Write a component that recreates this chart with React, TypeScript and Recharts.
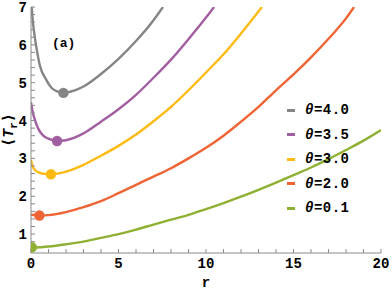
import React from 'react';
import { ComposedChart, Line, Scatter, XAxis, YAxis } from 'recharts';

// tick values
const xTicks = [0, 1, 2, 3, 4, 5, 6, 7, 8, 9, 10, 11, 12, 13, 14, 15, 16, 17, 18, 19, 20];
const yTicks = [
  0.6, 0.8, 1, 1.2, 1.4, 1.6, 1.8, 2, 2.2, 2.4, 2.6, 2.8, 3, 3.2, 3.4, 3.6, 3.8, 4,
  4.2, 4.4, 4.6, 4.8, 5, 5.2, 5.4, 5.6, 5.8, 6, 6.2, 6.4, 6.6, 6.8, 7,
];
const xLabels = [0, 5, 10, 15, 20];

// series (r, <T_r>)
const theta40 = [
  { r: 0.04, t: 7.0 }, { r: 0.1, t: 6.65 }, { r: 0.17, t: 6.36 }, { r: 0.32, t: 5.9 },
  { r: 0.51, t: 5.45 }, { r: 0.84, t: 5.1 }, { r: 1.18, t: 4.86 }, { r: 1.5, t: 4.77 },
  { r: 1.85, t: 4.73 }, { r: 2.5, t: 4.8 }, { r: 3, t: 4.9 }, { r: 4, t: 5.23 },
  { r: 5, t: 5.63 }, { r: 6, t: 6.1 }, { r: 7, t: 6.65 }, { r: 7.54, t: 7.0 },
];
const theta35 = [
  { r: 0, t: 4.48 }, { r: 0.1, t: 4.22 }, { r: 0.25, t: 3.98 }, { r: 0.42, t: 3.78 },
  { r: 0.7, t: 3.6 }, { r: 1.0, t: 3.52 }, { r: 1.49, t: 3.46 }, { r: 2, t: 3.48 },
  { r: 3, t: 3.66 }, { r: 4, t: 3.97 }, { r: 5, t: 4.3 }, { r: 6, t: 4.68 },
  { r: 7, t: 5.13 }, { r: 8, t: 5.61 }, { r: 9, t: 6.15 }, { r: 10, t: 6.72 },
  { r: 10.46, t: 7.0 },
];
const theta30 = [
  { r: 0, t: 2.96 }, { r: 0.1, t: 2.78 }, { r: 0.25, t: 2.68 }, { r: 0.5, t: 2.62 },
  { r: 0.8, t: 2.59 }, { r: 1.14, t: 2.58 }, { r: 2, t: 2.65 }, { r: 3, t: 2.83 },
  { r: 4, t: 3.07 }, { r: 5, t: 3.33 }, { r: 6, t: 3.63 }, { r: 7, t: 3.98 },
  { r: 8, t: 4.36 }, { r: 9, t: 4.8 }, { r: 10, t: 5.27 }, { r: 11, t: 5.75 },
  { r: 12, t: 6.3 }, { r: 13.2, t: 7.0 },
];
const theta20 = [
  { r: 0, t: 1.51 }, { r: 0.48, t: 1.49 }, { r: 1, t: 1.5 }, { r: 2, t: 1.58 },
  { r: 3, t: 1.71 }, { r: 4, t: 1.87 }, { r: 5, t: 2.08 }, { r: 6, t: 2.3 },
  { r: 7, t: 2.52 }, { r: 8, t: 2.74 }, { r: 9, t: 3.0 }, { r: 10, t: 3.28 },
  { r: 11, t: 3.6 }, { r: 12, t: 3.97 }, { r: 13, t: 4.36 }, { r: 14, t: 4.8 },
  { r: 15, t: 5.22 }, { r: 16, t: 5.67 }, { r: 17, t: 6.16 }, { r: 18, t: 6.7 },
  { r: 18.46, t: 7.0 },
];
const theta01 = [
  { r: 0, t: 0.63 }, { r: 1, t: 0.67 }, { r: 2, t: 0.73 }, { r: 3, t: 0.8 },
  { r: 4, t: 0.9 }, { r: 5, t: 1.0 }, { r: 6, t: 1.12 }, { r: 7, t: 1.25 },
  { r: 8, t: 1.38 }, { r: 9, t: 1.51 }, { r: 10, t: 1.66 }, { r: 11, t: 1.82 },
  { r: 12, t: 1.99 }, { r: 13, t: 2.17 }, { r: 14, t: 2.36 }, { r: 15, t: 2.56 },
  { r: 16, t: 2.76 }, { r: 17, t: 2.98 }, { r: 18, t: 3.22 }, { r: 19, t: 3.47 },
  { r: 20, t: 3.75 },
];

// minimum of each curve
const minima = [
  { r: 1.85, t: 4.73 },
  { r: 1.49, t: 3.46 },
  { r: 1.14, t: 2.58 },
  { r: 0.48, t: 1.49 },
  { r: 0.05, t: 0.65 },
];

const names = ['4.0', '3.5', '3.0', '2.0', '0.1'];
const colors = ['#858585', '#a15ea0', '#fdba12', '#ef6434', '#8fb133'];
const series = [theta40, theta35, theta30, theta20, theta01];

const font = 'Liberation Mono, DejaVu Sans Mono, monospace';
const frame = '#8a8a8a';

const LegendBox = () => (
  <div
    style={{
      position: 'absolute',
      left: 287,
      top: 98,
      fontFamily: font,
      fontWeight: 'bold',
      fontSize: 14,
    }}
  >
    {names.map((n, i) => (
      <div key={n} style={{ height: 24.5, display: 'flex', alignItems: 'center' }}>
        <span style={{ width: 8, height: 3, background: colors[i], display: 'inline-block', marginRight: 10 }} />
        <span style={{ letterSpacing: 0.5 }}>
          <span style={{ fontStyle: 'italic' }}>θ</span>={n}
        </span>
      </div>
    ))}
  </div>
);

const dotShape = (color: string) => (props: any) => (
  <circle cx={props.cx} cy={props.cy} r={5.2} fill={color} />
);

export default function App() {
  const tickStyle = { fontFamily: font, fontWeight: 'bold', fontSize: 14, fill: '#000' };
  return (
    <div style={{ position: 'absolute', left: 0, top: 0, width: 392, height: 292, background: '#fff' }}>
      <ComposedChart width={392} height={292} margin={{ top: 7, right: 11, left: 0, bottom: 0 }}>
        <XAxis
          dataKey="r"
          type="number"
          domain={[0, 20]}
          ticks={xTicks}
          interval={0}
          allowDataOverflow
          height={39}
          tickSize={-4}
          tickMargin={9}
          axisLine={{ stroke: frame }}
          tickLine={{ stroke: frame }}
          tick={tickStyle}
          tickFormatter={(v: number) => (xLabels.includes(v) ? String(v) : '')}
          label={{
            content: () => (
              <text x={206} y={287} textAnchor="middle" fontFamily={font} fontWeight="bold" fontSize={14}>
                r
              </text>
            ),
          }}
        />
        <XAxis
          xAxisId="top"
          orientation="top"
          type="number"
          domain={[0, 20]}
          ticks={xTicks}
          interval={0}
          allowDataOverflow
          height={0}
          tickSize={-4}
          axisLine={{ stroke: frame }}
          tickLine={{ stroke: frame }}
          tick={false}
        />
        <YAxis
          type="number"
          domain={[0.5, 7]}
          ticks={yTicks}
          interval={0}
          allowDataOverflow
          width={31}
          tickSize={-4}
          tickMargin={8}
          axisLine={{ stroke: frame }}
          tickLine={{ stroke: frame }}
          tick={tickStyle}
          tickFormatter={(v: number) => (Math.abs(v - Math.round(v)) < 1e-6 ? String(Math.round(v)) : '')}
          label={{
            content: () => (
              <text
                x={13}
                y={130}
                transform="rotate(-90 13 130)"
                textAnchor="middle"
                fontFamily={font}
                fontWeight="bold"
                fontSize={15}
              >
                ⟨<tspan fontStyle="italic">T</tspan>
                <tspan fontSize={11} dy={4}>r</tspan>
                <tspan dy={-4}>⟩</tspan>
              </text>
            ),
          }}
        />
        <YAxis
          yAxisId="right"
          orientation="right"
          type="number"
          domain={[0.5, 7]}
          ticks={yTicks}
          interval={0}
          allowDataOverflow
          width={0}
          tickSize={-4}
          axisLine={{ stroke: frame }}
          tickLine={{ stroke: frame }}
          tick={false}
        />
        {series.map((d, i) => (
          <Line
            key={names[i]}
            data={d}
            dataKey="t"
            type="monotone"
            stroke={colors[i]}
            strokeWidth={2.4}
            dot={false}
            isAnimationActive={false}
          />
        ))}
        {minima.map((m, i) => (
          <Scatter
            key={'m' + names[i]}
            data={[m]}
            dataKey="t"
            fill={colors[i]}
            shape={dotShape(colors[i])}
            isAnimationActive={false}
          />
        ))}
      </ComposedChart>
      <LegendBox />
      <div
        style={{
          position: 'absolute',
          left: 52,
          top: 36,
          fontFamily: font,
          fontWeight: 'bold',
          fontSize: 13,
        }}
      >
        (a)
      </div>
    </div>
  );
}
